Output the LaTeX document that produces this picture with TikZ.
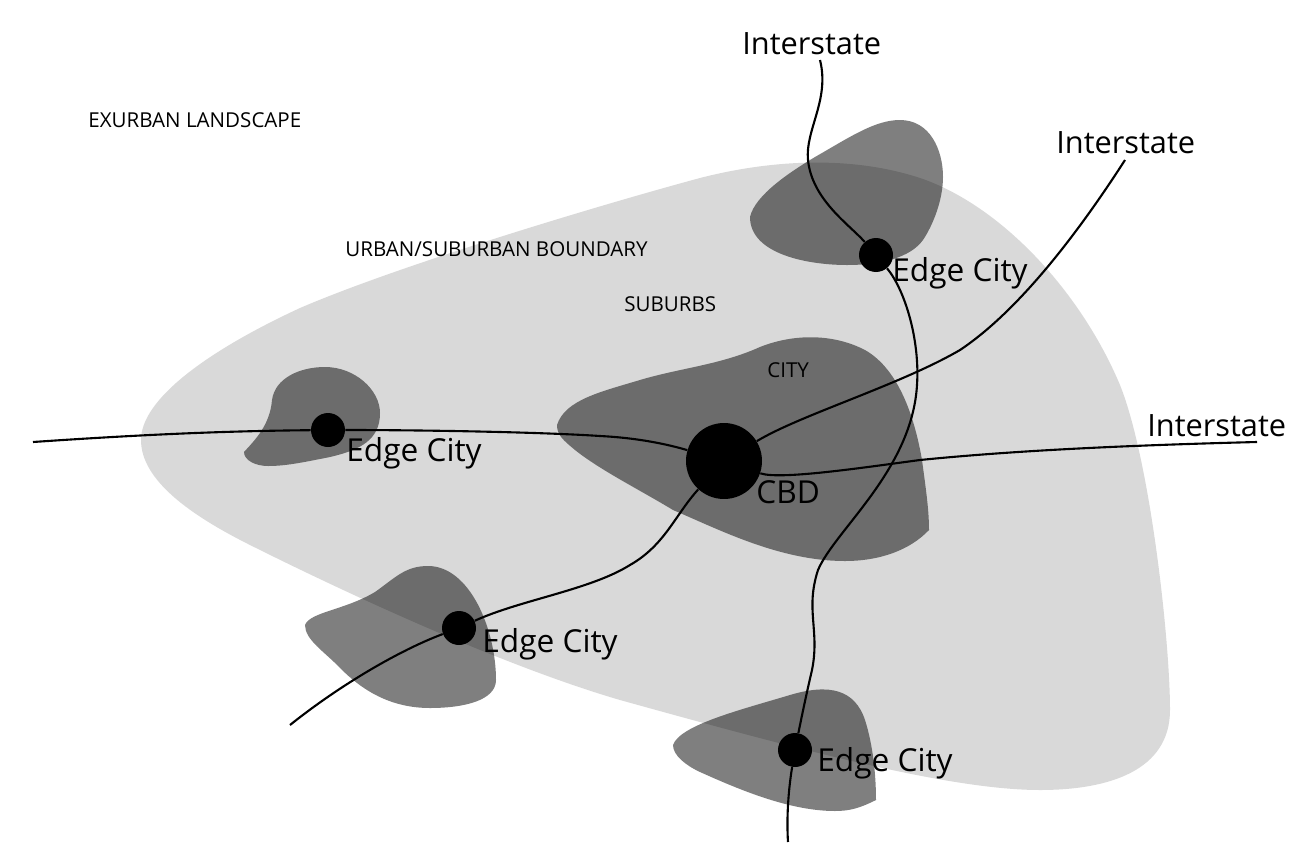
\documentclass[tikz,border=0pt]{standalone}
\usepackage{fontspec}
\setmainfont{Open Sans}
\usepackage{tikz}
\usetikzlibrary{positioning}
\tikzset{
    road/.style={line width=1.2pt, black},
    patch/.style={fill=black, fill opacity=0.5},
    stop/.style={circle, fill=black, inner sep=0pt, minimum size=0.68cm},
    bigtext/.style={font=\fontsize{18}{20}\selectfont, anchor=west, inner sep=0pt},
    roadtext/.style={font=\fontsize{17.5}{20}\selectfont, anchor=west, inner sep=0pt},
    smalltext/.style={font=\fontsize{11.7}{13}\selectfont, anchor=west, inner sep=0pt}
}
\begin{document}
\begin{tikzpicture}[x=0.02cm,y=-0.02cm]
    \useasboundingbox (0,0) rectangle (1302,859);
    % regions
    \fill[fill=black!15] (141,440) .. controls (141,400) and (205,352) .. (300,308) .. controls (400,265) and (600,205) .. (700,178) .. controls (770,160) and (850,155) .. (920,178) .. controls (1000,205) and (1080,290) .. (1120,385) .. controls (1150,460) and (1170,640) .. (1170,710) .. controls (1170,770) and (1110,790) .. (1040,790) .. controls (950,790) and (800,750) .. (620,700) .. controls (500,665) and (340,590) .. (250,545) .. controls (190,515) and (141,480) .. (141,440) -- cycle;
    \fill[patch] (750,217) .. controls (755,195) and (790,172) .. (815,157) .. controls (850,137) and (875,120) .. (900,120) .. controls (930,120) and (943,150) .. (943,177) .. controls (943,200) and (933,225) .. (923,240) .. controls (910,258) and (880,265) .. (847,265) .. controls (810,265) and (750,255) .. (750,217) -- cycle;
    \fill[patch] (244,452) .. controls (255,440) and (270,425) .. (272,400) .. controls (275,378) and (300,367) .. (325,367) .. controls (355,367) and (380,390) .. (380,413) .. controls (380,440) and (360,450) .. (330,457) .. controls (300,463) and (285,466) .. (268,466) .. controls (255,466) and (244,460) .. (244,452) -- cycle;
    \fill[patch] (305,625) .. controls (310,612) and (345,610) .. (375,592) .. controls (395,578) and (405,566) .. (428,566) .. controls (470,566) and (496,630) .. (496,680) .. controls (496,700) and (465,708) .. (430,708) .. controls (390,708) and (362,690) .. (340,668) .. controls (325,652) and (305,640) .. (305,625) -- cycle;
    \fill[patch] (673,745) .. controls (680,725) and (740,710) .. (790,695) .. controls (830,683) and (855,690) .. (865,720) .. controls (873,745) and (876,775) .. (876,800) .. controls (860,808) and (850,811) .. (835,811) .. controls (790,811) and (740,790) .. (700,772) .. controls (685,765) and (673,755) .. (673,745) -- cycle;
    \fill[patch] (557,425) .. controls (565,400) and (600,392) .. (640,380) .. controls (680,368) and (720,365) .. (760,347) .. controls (790,335) and (830,332) .. (865,350) .. controls (900,370) and (915,420) .. (922,460) .. controls (926,490) and (929,510) .. (929,530) .. controls (910,550) and (880,561) .. (845,561) .. controls (780,561) and (720,530) .. (673,510) .. controls (640,490) and (600,470) .. (575,450) .. controls (563,440) and (557,435) .. (557,425) -- cycle;
    % junctions
    \node[stop] (north) at (876,255) {};
    \node[stop] (west) at (328,430) {};
    \node[stop] (southwest) at (459,628) {};
    \node[stop] (south) at (795,750) {};
    \node[stop,minimum size=1.52cm] (cbd) at (724,461) {};
    \coordinate (n1) at (820,60);
    \coordinate (s1) at (788,842);
    \coordinate (e1) at (1125,160);
    \coordinate (e2) at (1257,442);
    \coordinate (w1) at (33,442);
    \coordinate (sw1) at (290,725);
    % roads
    \draw[road] (n1) .. controls (830,100) and (805,130) .. (808,160) .. controls (812,200) and (850,225) .. (north);
    \draw[road] (north) .. controls (905,290) and (920,340) .. (917,385) .. controls (912,470) and (835,530) .. (818,570) .. controls (805,610) and (820,630) .. (812,670) .. controls (805,700) and (800,725) .. (south);
    \draw[road] (south) .. controls (790,780) and (786,810) .. (s1);
    \draw[road] (e1) .. controls (1080,230) and (1020,310) .. (960,350) .. controls (900,385) and (800,415) .. (cbd);
    \draw[road] (e2) .. controls (1100,446) and (1000,452) .. (920,460) .. controls (860,468) and (780,480) .. (cbd);
    \draw[road] (w1) .. controls (150,434) and (230,431) .. (west);
    \draw[road] (west) .. controls (420,430) and (540,432) .. (600,436) .. controls (640,438) and (670,445) .. (cbd);
    \draw[road] (sw1) .. controls (340,685) and (400,650) .. (southwest);
    \draw[road] (southwest) .. controls (520,600) and (590,590) .. (630,565) .. controls (665,545) and (675,515) .. (cbd);
    % labels
    \node[smalltext] (exurban) at (88,120) {EXURBAN LANDSCAPE};
    \node[smalltext] (boundary) at (345,249) {URBAN/SUBURBAN BOUNDARY};
    \node[smalltext] (suburbs) at (624,304) {SUBURBS};
    \node[smalltext] (city) at (767,370) {CITY};
    \node[roadtext] (int1) at (742,44) {Interstate};
    \node[roadtext] (int2) at (1056,143) {Interstate};
    \node[roadtext] (int3) at (1147,426) {Interstate};
    \node[bigtext] (ec1) at (892,273) {Edge City};
    \node[bigtext] (ec2) at (346,453) {Edge City};
    \node[bigtext] (ec3) at (482,644) {Edge City};
    \node[bigtext] (ec4) at (817,763) {Edge City};
    \node[bigtext] (cbdtext) at (756,492) {CBD};
\end{tikzpicture}
\end{document}
